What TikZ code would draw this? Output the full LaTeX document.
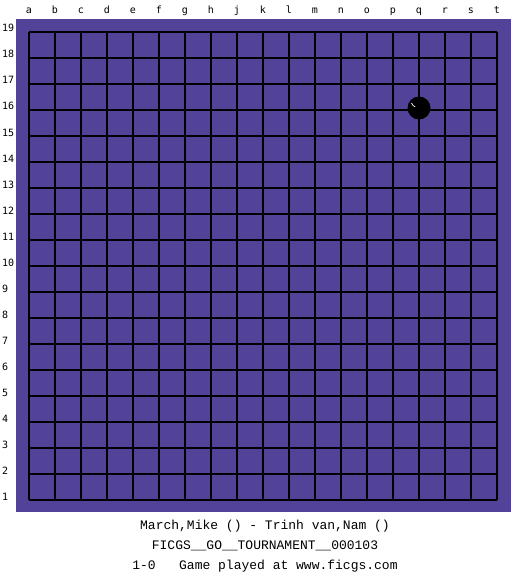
\documentclass[tikz,border=0pt]{standalone}
\usepackage{fontspec}
\setmonofont{Liberation Mono}
\newfontfamily\lblfont{DejaVu Sans Mono}
\definecolor{board}{RGB}{82,66,152}
\begin{document}
\begin{tikzpicture}[x=1pt,y=-1pt,
  lbl/.style={font=\lblfont\fontsize{10}{10}\selectfont, inner sep=0pt, anchor=base},
  info/.style={font=\ttfamily\fontsize{13}{13}\selectfont, inner sep=0pt, anchor=base},
  gridline/.style={black, line width=1.2pt}]
\useasboundingbox (0,0) rectangle (525,575);
\fill[white] (0,0) rectangle (525,575);
\fill[board] (16,19) rectangle (511,512);
\foreach \i in {0,...,18} {
  \draw[gridline] (29+\i*26,32) -- (29+\i*26,500);
  \draw[gridline] (29,32+\i*26) -- (497,32+\i*26);
}
\foreach \l [count=\i from 0] in {a,b,c,d,e,f,g,h,j,k,l,m,n,o,p,q,r,s,t} {
  \node[lbl] (col\l) at (29+\i*26,14) {\l};
}
\foreach \n in {1,...,19} {
  \node[lbl, anchor=base west] (row\n) at (2,526-\n*26) {\n};
}
\node[circle, fill=black, minimum size=23pt, inner sep=0pt] (stone) at (419,108) {};
\draw[white, line width=0.7pt] (411.5,103) arc[start angle=200, end angle=245, radius=7pt];
\node[info] (players) at (265,529) {March,Mike () - Trinh van,Nam ()};
\node[info] (event) at (265,549) {FICGS\_\_GO\_\_TOURNAMENT\_\_000103};
\node[info] (result) at (265,569) {1-0\ \ \ Game played at www.ficgs.com};
\end{tikzpicture}
\end{document}
